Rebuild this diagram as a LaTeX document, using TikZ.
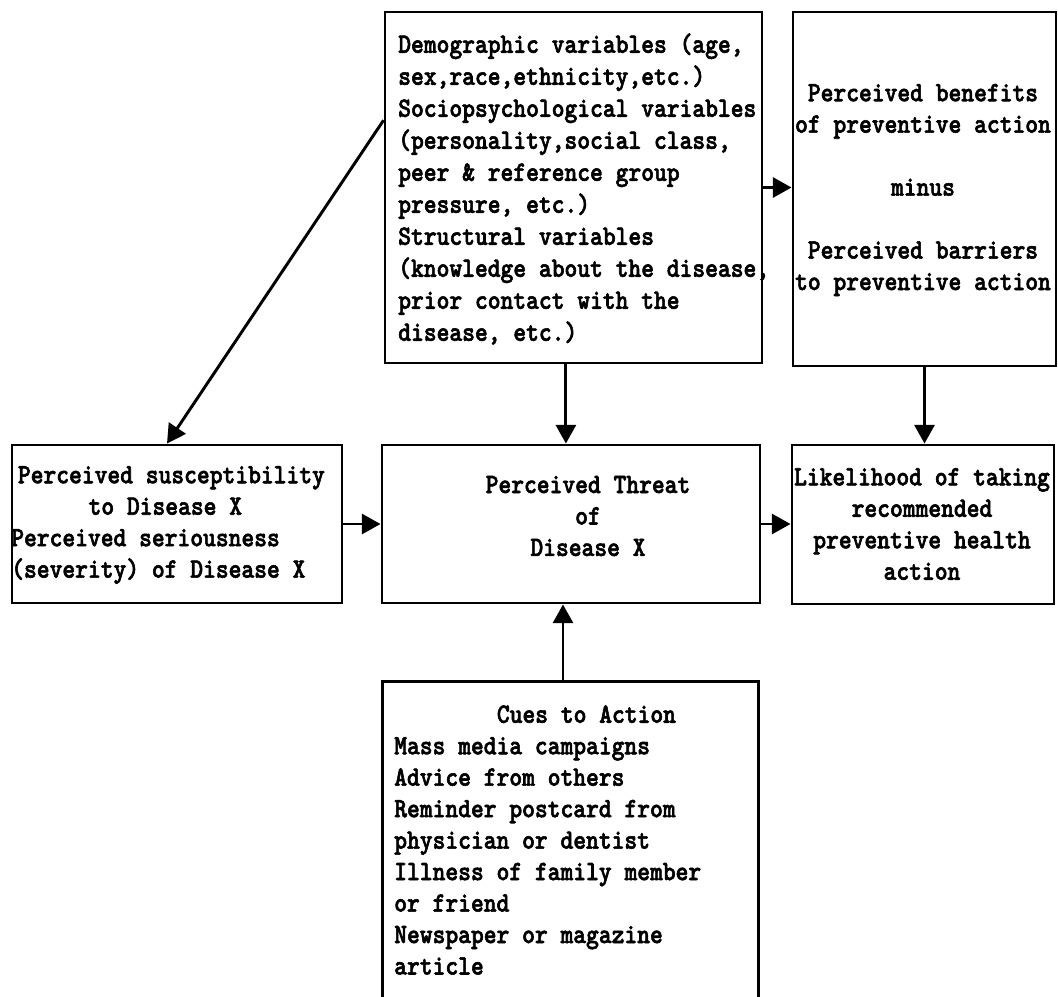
\documentclass[tikz,border=0pt]{standalone}
\usepackage{fontspec}
\newfontfamily\tw{lmmonolt10-bold}[Extension=.otf, FakeStretch=0.87, FakeBold=2]
\usetikzlibrary{arrows.meta,calc,fit}
\begin{document}
\begin{tikzpicture}[x=0.75pt,y=-0.75pt,
  box/.style={draw, line width=2.2pt, inner sep=0pt},
  txt/.style={font=\tw\fontsize{21}{23.6}\selectfont, inner sep=0pt},
  arr/.style={line width=2.2pt, -{Triangle[length=14pt,width=15pt]}}]
\useasboundingbox (0,0) rectangle (1058,997);
% boxes
\node[box, fit={(385,12)(762,363)}] (demo) {};
\node[box, fit={(793,12)(1056,366)}] (benefit) {};
\node[box, fit={(12,445)(342,603)}] (susc) {};
\node[box, fit={(382,445)(760,603)}] (threat) {};
\node[box, fit={(792,445)(1054,604)}] (likely) {};
\node[inner sep=0pt, fit={(383,682)(758,997)}] (cues) {};
\draw[line width=2.2pt] (cues.south west) -- (cues.north west) -- (cues.north east) -- (cues.south east);
% texts
\node[txt, font=\tw\fontsize{21}{24}\selectfont, anchor=west, align=left] (demoT) at (398,189) {Demographic variables (age,\\sex,race,ethnicity,etc.)\\Sociopsychological variables\\(personality,social class,\\peer \& reference group\\pressure, etc.)\\Structural variables\\(knowledge about the disease,\\prior contact with the\\disease, etc.)};
\node[txt, align=center] (benefitT) at (923,190) {Perceived benefits\\of preventive action\\[23.6pt]minus\\[23.6pt]Perceived barriers\\to preventive action};
\node[txt, anchor=west, align=left] (suscT) at (11,525) {\hspace*{5pt}Perceived susceptibility\\\hspace*{58pt}to Disease X\\Perceived seriousness\\(severity) of Disease X};
\node[txt, align=center] (threatT) at (588,516) {Perceived Threat\\of\\Disease X};
\node[txt, align=center] (likelyT) at (922,524) {Likelihood of taking\\recommended\\preventive health\\action};
\node[txt, anchor=west, align=left] (cuesT) at (394,840) {\hspace*{77pt}Cues to Action\\Mass media campaigns\\Advice from others\\Reminder postcard from\\physician or dentist\\Illness of family member\\or friend\\Newspaper or magazine\\article};
% connectors
\draw[arr] ($(demo.north west)!0.31!(demo.south west)$) -- ($(susc.north west)!0.47!(susc.north east)$);
\draw[arr] (demo.east) -- (demo.east -| benefit.west);
\coordinate (dS) at ($(demo.south west)!0.48!(demo.south east)$);
\draw[arr] (dS) -- (dS |- threat.north);
\draw[arr] (benefit.south) -- (benefit.south |- likely.north);
\draw[arr] (susc.east) -- (susc.east -| threat.west);
\draw[arr] (threat.east) -- (threat.east -| likely.west);
\coordinate (cN) at ($(cues.north west)!0.48!(cues.north east)$);
\draw[arr] (cN) -- (cN |- threat.south);
\end{tikzpicture}
\end{document}
